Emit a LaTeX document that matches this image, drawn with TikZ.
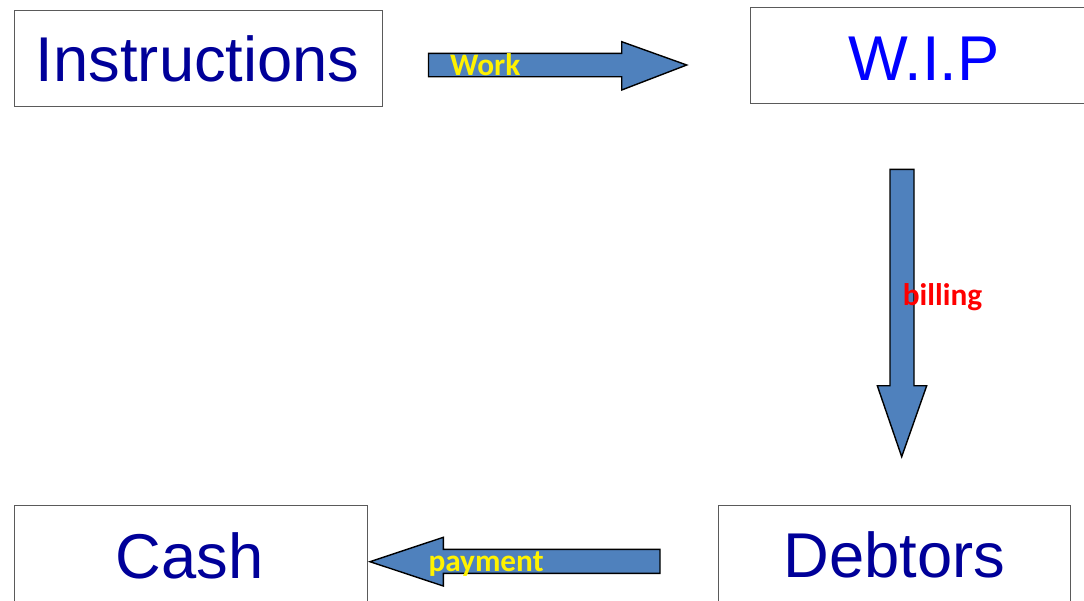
\documentclass[tikz,border=0pt]{standalone}
\usepackage{fontspec}
\setmainfont{Liberation Sans}
\newfontfamily\lblfont{Carlito}
\definecolor{arrowblue}{RGB}{79,129,189}
\definecolor{darkblue}{RGB}{0,0,153}
\definecolor{brightblue}{RGB}{0,0,255}
\definecolor{boxgray}{RGB}{90,90,90}
\begin{document}
\begin{tikzpicture}[x=1pt,y=-1pt,
  box/.style={draw=boxgray,line width=1pt,fill=white,inner sep=0pt,anchor=north west},
  bigtext/.style={inner sep=0pt,anchor=base,font=\fontsize{63.3}{70}\selectfont},
  blockarrow/.style={draw=black,line width=1.4pt,fill=arrowblue,line join=miter},
  lbl/.style={inner sep=0pt,anchor=base west,font=\lblfont\bfseries\fontsize{31.3}{34}\selectfont}]
\useasboundingbox (0,0) rectangle (1084,600);
\clip (0,0) rectangle (1084,600);
\fill[white] (0,0) rectangle (1084,600);
% boxes
\node[box,minimum width=368.5pt,minimum height=96.5pt] (instr) at (13.5,9.5) {};
\node[box,minimum width=345pt,minimum height=96pt] (wip) at (750,7) {};
\node[box,minimum width=353pt,minimum height=110pt] (cash) at (13.5,505) {};
\node[box,minimum width=352pt,minimum height=110pt] (debt) at (718,505) {};
% texts
\node[bigtext,text=darkblue] (tinstr) at (197.75,81) {Instructions};
\node[bigtext,text=brightblue] (twip) at (924,80) {W.I.P};
\node[bigtext,text=darkblue] (tcash) at (189.5,578) {Cash};
\node[bigtext,text=darkblue] (tdebt) at (894.5,577) {Debtors};
% block arrows
\draw[blockarrow] (428.5,53.3) -- (621.7,53.3) -- (621.7,41.7) -- (686.7,65) -- (621.7,90) -- (621.7,76.7) -- (428.5,76.7) -- cycle;
\draw[blockarrow] (890,169.3) -- (914,169.3) -- (914,385.7) -- (926.7,385.7) -- (901.7,456.7) -- (877.3,385.7) -- (890,385.7) -- cycle;
\draw[blockarrow] (660,549.3) -- (443.3,549.3) -- (443.3,537.3) -- (370,561.7) -- (443.3,586) -- (443.3,573.3) -- (660,573.3) -- cycle;
% labels
\node[lbl,text=yellow] (work) at (450,75) {Work};
\node[lbl,text=red] (billing) at (902.7,305) {billing};
\node[lbl,text=yellow] (payment) at (428.3,571.7) {payment};
\end{tikzpicture}
\end{document}
